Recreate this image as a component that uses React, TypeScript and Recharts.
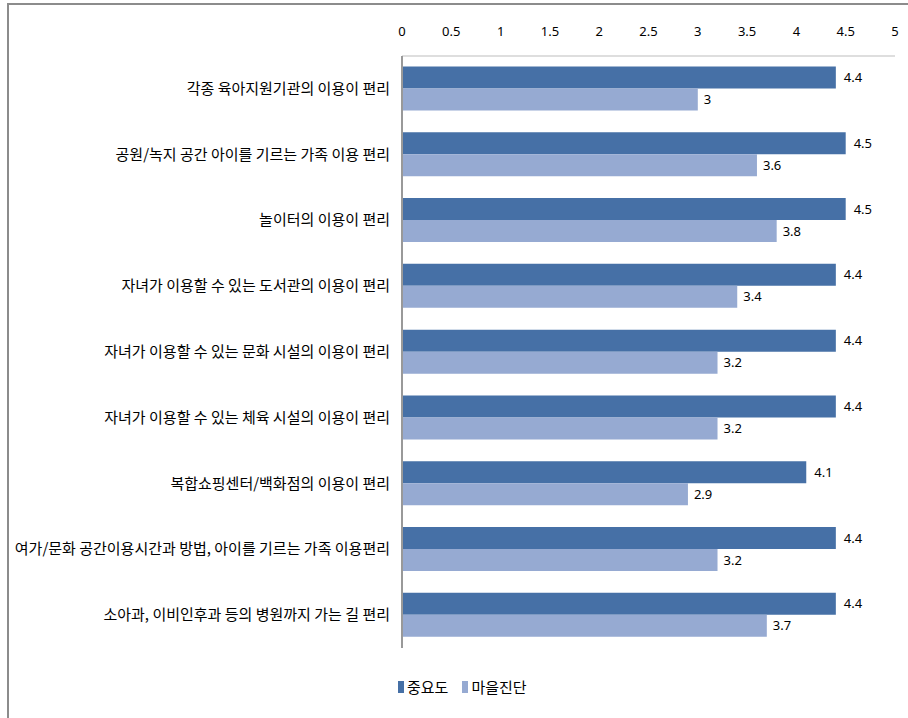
import React from 'react'
import { BarChart, Bar, XAxis, YAxis, LabelList } from 'recharts'

const categories = [
  '각종 육아지원기관의 이용이 편리',
  '공원/녹지 공간 아이를 기르는 가족 이용 편리',
  '놀이터의 이용이 편리',
  '자녀가 이용할 수 있는 도서관의 이용이 편리',
  '자녀가 이용할 수 있는 문화 시설의 이용이 편리',
  '자녀가 이용할 수 있는 체육 시설의 이용이 편리',
  '복합쇼핑센터/백화점의 이용이 편리',
  '여가/문화 공간이용시간과 방법, 아이를 기르는 가족 이용편리',
  '소아과, 이비인후과 등의 병원까지 가는 길 편리',
]
const importance = [4.4, 4.5, 4.5, 4.4, 4.4, 4.4, 4.1, 4.4, 4.4]
const village = [3, 3.6, 3.8, 3.4, 3.2, 3.2, 2.9, 3.2, 3.7]
const xTicks = [0, 0.5, 1, 1.5, 2, 2.5, 3, 3.5, 4, 4.5, 5]

const data = categories.map((name, i) => ({
  name,
  importance: importance[i],
  village: village[i],
}))

const DARK = '#4670A6'
const LIGHT = '#96AAD2'
const KR = '"Noto Sans CJK KR", "Noto Sans", sans-serif'
const NUM = '"Noto Sans", sans-serif'

// plain text tick so the long label is not wrapped
function CategoryTick(props: any) {
  const { x, y, payload } = props
  return (
    <text x={x} y={y} dy={5} textAnchor="end" fill="#000" fontSize={15} fontFamily={KR}>
      {payload.value}
    </text>
  )
}

function LegendBox() {
  const items = [
    { label: '중요도', color: DARK },
    { label: '마을진단', color: LIGHT },
  ]
  return (
    <div style={{ position: 'absolute', top: 676, left: 398, display: 'flex', gap: 14, fontFamily: KR, fontSize: 15, color: '#000' }}>
      {items.map((it) => (
        <div key={it.label} style={{ display: 'flex', alignItems: 'center' }}>
          <span style={{ display: 'inline-block', width: 6, height: 12, background: it.color, marginRight: 3 }} />
          <span>{it.label}</span>
        </div>
      ))}
    </div>
  )
}

export default function App() {
  return (
    <div style={{ position: 'absolute', left: 0, top: 0, width: 908, height: 718, background: '#fff' }}>
      <div
        style={{
          position: 'absolute',
          left: 7,
          top: 3,
          width: 901,
          height: 715,
          borderLeft: '2px solid #8c8c8c',
          borderTop: '2px solid #8c8c8c',
          boxSizing: 'border-box',
        }}
      />
      <div style={{ position: 'absolute', left: 0, top: 0 }}>
        <BarChart
          width={908}
          height={718}
          data={data}
          layout="vertical"
          margin={{ top: 26, right: 13, bottom: 70, left: 0 }}
          barCategoryGap="16%"
          barGap={0}
        >
          <XAxis
            type="number"
            orientation="top"
            domain={[0, 5]}
            ticks={xTicks}
            height={30}
            tickLine={false}
            tickSize={0}
            tickMargin={20}
            axisLine={{ stroke: '#bdbdbd' }}
            tick={{ fill: '#000', fontSize: 13, fontFamily: NUM }}
            interval={0}
          />
          <YAxis
            type="category"
            dataKey="name"
            width={402}
            tickLine={false}
            tickSize={0}
            tickMargin={12}
            axisLine={{ stroke: '#999999', strokeWidth: 2 }}
            tick={<CategoryTick />}
            interval={0}
          />
          <Bar dataKey="importance" name="중요도" fill={DARK} isAnimationActive={false}>
            <LabelList dataKey="importance" position="right" offset={8} fill="#000" fontSize={13} fontFamily={NUM} />
          </Bar>
          <Bar dataKey="village" name="마을진단" fill={LIGHT} isAnimationActive={false}>
            <LabelList dataKey="village" position="right" offset={6} fill="#000" fontSize={13} fontFamily={NUM} />
          </Bar>
        </BarChart>
      </div>
      <LegendBox />
    </div>
  )
}
